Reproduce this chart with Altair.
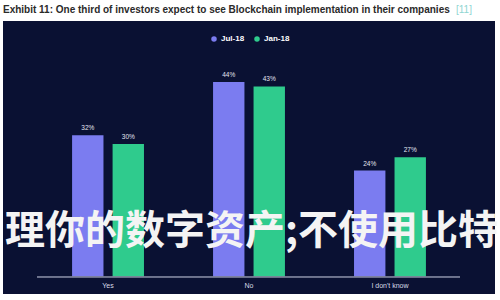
import altair as alt
import pandas as pd

categories = ["Yes", "No", "I don't know"]
series = ["Jul-18", "Jan-18"]
jul_values = [32, 44, 24]
jan_values = [30, 43, 27]
colors = ["#7b7cf0", "#2fcb8d"]
title_text = "Exhibit 11: One third of investors expect to see Blockchain implementation in their companies"
ref_text = "[11]"
overlay_text = "理你的数字资产;不使用比特"

rows = []
for c, a, b in zip(categories, jul_values, jan_values):
    rows.append({"cat": c, "series": series[0], "value": a, "label": f"{a}%"})
    rows.append({"cat": c, "series": series[1], "value": b, "label": f"{b}%"})
df = pd.DataFrame(rows)
cat_df = pd.DataFrame({"cat": categories})

xenc = alt.X("cat:N", sort=categories, axis=None,
             scale=alt.Scale(paddingInner=0.49, paddingOuter=0.49))
xoff = alt.XOffset("series:N", sort=series,
                   scale=alt.Scale(paddingInner=0.225, paddingOuter=0))
yscale = alt.Scale(domain=[-3.84, 57.76], zero=False, nice=False)

bars = alt.Chart(df).mark_bar().encode(
    x=xenc, xOffset=xoff,
    y=alt.Y("value:Q", scale=yscale, axis=None),
    y2=alt.datum(0),
    color=alt.Color("series:N", sort=series,
                    scale=alt.Scale(domain=series, range=colors),
                    legend=alt.Legend(title=None, orient="none", direction="horizontal",
                                      legendX=207, legendY=14, symbolType="circle",
                                      symbolSize=30, labelColor="#ffffff",
                                      labelFontSize=8, labelFontWeight="bold",
                                      columnPadding=8, labelOffset=3, padding=0)),
)

vlabels = alt.Chart(df).mark_text(dy=-7, fontSize=6.5, color="#e4e6f0", font="Liberation Sans").encode(
    x=xenc, xOffset=xoff, y=alt.Y("value:Q", scale=yscale), text="label:N"
)

baseline = alt.Chart(cat_df).mark_rule(color="#7c8199", strokeWidth=1).encode(
    y=alt.datum(0), x=alt.value(34), x2=alt.value(457)
)

clabels = alt.Chart(cat_df).mark_text(fontSize=7, color="#d8dbe8", font="Liberation Sans").encode(
    x=xenc, y=alt.datum(-2.1), text="cat:N"
)

overlay = alt.Chart(pd.DataFrame({"t": [overlay_text]})).mark_text(
    align="left", baseline="middle", fontSize=40, fontWeight="bold",
    font="Noto Sans CJK SC", color="#f4f4f4"
).encode(x=alt.value(2), y=alt.value(211), text="t:N")

title = alt.Chart(pd.DataFrame({"t": [title_text]})).mark_text(
    align="left", baseline="alphabetic", fontSize=10, fontWeight="bold",
    color="#2a2a2a", font="Liberation Sans"
).encode(x=alt.value(0), y=alt.value(-8), text="t:N")

ref = alt.Chart(pd.DataFrame({"t": [ref_text]})).mark_text(
    align="left", baseline="alphabetic", fontSize=10, color="#8fd6d2", font="Liberation Sans"
).encode(x=alt.value(453), y=alt.value(-8), text="t:N")

chart = alt.layer(bars, vlabels, baseline, clabels, overlay, title, ref).properties(
    width=492, height=273,
    autosize=alt.AutoSizeParams(type="none"),
    padding={"left": 3, "top": 21, "right": 5, "bottom": 6},
    background="#ffffff",
).configure_view(fill="#0a1133", stroke=None)

chart.save("out.html", embed_options={"renderer": "svg", "actions": False})
